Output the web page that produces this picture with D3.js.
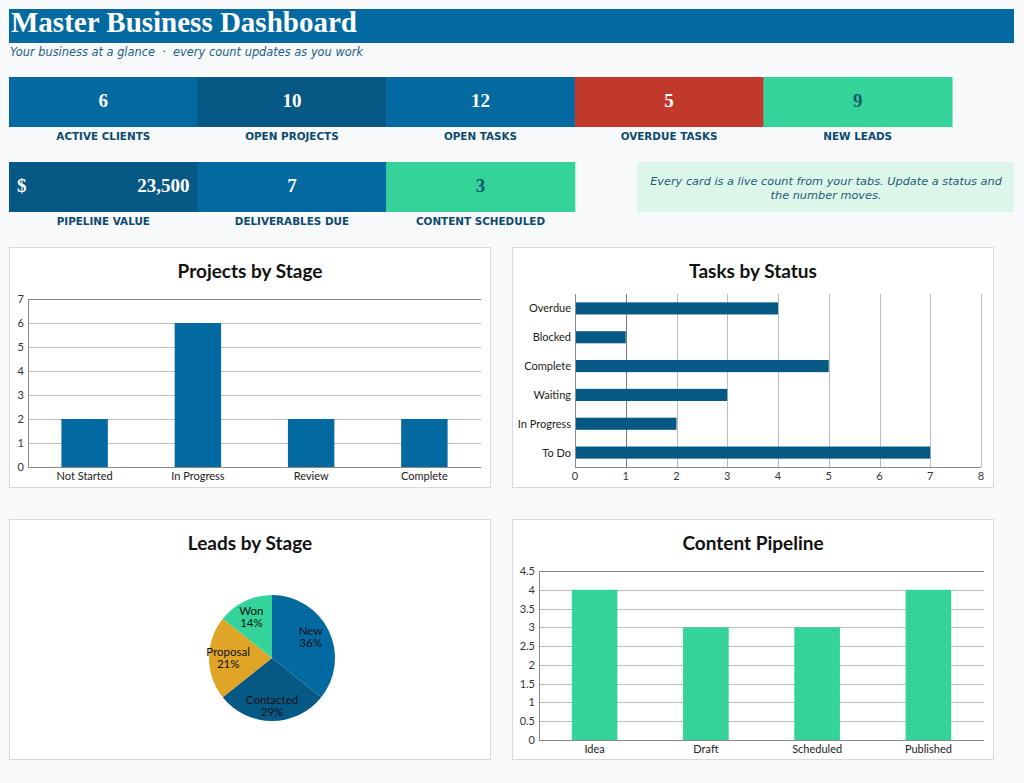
<!DOCTYPE html>
<html><head><meta charset="utf-8">
<script src="https://cdn.jsdelivr.net/npm/d3@7"></script>
<style>
html,body{margin:0;padding:0;background:#f8f9fb;}
svg{display:block;}
text{white-space:pre;}
</style></head>
<body><svg id="c" width="1024" height="783"></svg>
<script>
// ---- data ----
const kpiLabels1 = ["ACTIVE CLIENTS","OPEN PROJECTS","OPEN TASKS","OVERDUE TASKS","NEW LEADS"];
const kpiValues1 = [6,10,12,5,9];
const kpiLabels2 = ["PIPELINE VALUE","DELIVERABLES DUE","CONTENT SCHEDULED"];
const kpiValues2 = [23500,7,3];
const projectStages = ["Not Started","In Progress","Review","Complete"];
const projectCounts = [2,6,2,2];
const taskStatuses = ["Overdue","Blocked","Complete","Waiting","In Progress","To Do"];
const taskCounts = [4,1,5,3,2,7];
const leadStages = ["New","Contacted","Proposal","Won"];
const leadCounts = [5,4,3,2];
const contentStages = ["Idea","Draft","Scheduled","Published"];
const contentCounts = [4,3,3,4];
const projectTicks = [0,1,2,3,4,5,6,7];
const taskTicks = [0,1,2,3,4,5,6,7,8];
const contentTicks = [0,0.5,1,1.5,2,2.5,3,3.5,4,4.5];

// ---- styles ----
const BLUE="#0369a1", DARK="#075985", RED="#c0392b", GREEN="#34d399", GOLD="#e0a526";
const kpiColors1=[BLUE,DARK,BLUE,RED,GREEN];
const kpiColors2=[DARK,BLUE,GREEN];
const svg=d3.select("#c");

// header
svg.append("rect").attr("x",9).attr("y",9).attr("width",1005).attr("height",34).attr("fill","#036aa1");
svg.append("text").attr("x",11).attr("y",32).attr("fill","#fff")
  .attr("font-family","'Liberation Serif',serif").attr("font-weight","bold").attr("font-size",29)
  .text("Master Business Dashboard");
svg.append("text").attr("x",10).attr("y",56).attr("fill","#1d5f86")
  .attr("font-family","'DejaVu Sans',sans-serif").attr("font-style","italic").attr("font-size",11.4)
  .text("Your business at a glance  \u00b7  every count updates as you work");

const cw=188.6;
function card(i,y,color,val,label,pipeline){
  const x=9+i*cw;
  svg.append("rect").attr("x",x).attr("y",y).attr("width",cw+0.5).attr("height",50).attr("fill",color);
  const tc = color===GREEN ? "#0b5a6e" : "#fff";
  if(pipeline){
    svg.append("text").attr("x",x+8).attr("y",y+30).attr("fill",tc)
      .attr("font-family","'Liberation Serif',serif").attr("font-weight","bold").attr("font-size",19).text("$");
    svg.append("text").attr("x",x+cw-8).attr("y",y+30).attr("text-anchor","end").attr("fill",tc)
      .attr("font-family","'Liberation Serif',serif").attr("font-weight","bold").attr("font-size",19).text(d3.format(",")(val));
  } else {
    svg.append("text").attr("x",x+cw/2).attr("y",y+30).attr("text-anchor","middle").attr("fill",tc)
      .attr("font-family","'Liberation Serif',serif").attr("font-weight","bold").attr("font-size",19).text(val);
  }
  svg.append("text").attr("x",x+cw/2).attr("y",y+63).attr("text-anchor","middle").attr("fill","#0c4a6e")
    .attr("font-family","'DejaVu Sans',sans-serif").attr("font-weight","bold").attr("font-size",10.4)
    .text(label);
}
kpiValues1.forEach((v,i)=>card(i,77,kpiColors1[i],v,kpiLabels1[i],false));
kpiValues2.forEach((v,i)=>card(i,162,kpiColors2[i],v,kpiLabels2[i],i===0));

// note
svg.append("rect").attr("x",637).attr("y",162).attr("width",377).attr("height",50).attr("fill","#dcf7ea");
const note=svg.append("text").attr("text-anchor","middle").attr("fill","#1e5a78")
  .attr("font-family","'DejaVu Sans',sans-serif").attr("font-style","italic").attr("font-size",11.3);
note.append("tspan").attr("x",826).attr("y",185).text("Every card is a live count from your tabs. Update a status and");
note.append("tspan").attr("x",826).attr("y",199).text("the number moves.");

// panels
function panel(x,y,title){
  const g=svg.append("g");
  g.append("rect").attr("x",x+0.5).attr("y",y+0.5).attr("width",481).attr("height",240)
   .attr("fill","#fff").attr("stroke","#d9d9d9");
  g.append("text").attr("x",x+241).attr("y",y+31).attr("text-anchor","middle")
   .attr("font-family","Lato,sans-serif").attr("font-weight","bold").attr("font-size",19).attr("fill","#111")
   .text(title);
  return g;
}
const FONT="Lato,sans-serif";

function vbar(g,cats,vals,color,left,right,top,bottom,max,ticks,fmt){
  const x=d3.scaleBand().domain(cats).range([left,right]).paddingInner(0.59).paddingOuter(0.295);
  const y=d3.scaleLinear().domain([0,max]).range([bottom,top]);
  g.append("g").selectAll("line").data(ticks).join("line")
    .attr("x1",left).attr("x2",right).attr("y1",d=>Math.round(y(d))+0.5).attr("y2",d=>Math.round(y(d))+0.5)
    .attr("stroke",(d,i)=>i===ticks.length-1?"#8a8a8a":"#bdbdbd").attr("stroke-width",1);
  g.append("g").selectAll("rect").data(vals).join("rect")
    .attr("x",(d,i)=>x(cats[i])).attr("width",x.bandwidth())
    .attr("y",d=>y(d)).attr("height",d=>bottom-y(d)).attr("fill",color);
  g.append("line").attr("x1",left).attr("x2",right).attr("y1",bottom+0.5).attr("y2",bottom+0.5).attr("stroke","#8a8a8a");
  g.append("line").attr("x1",left+0.5).attr("x2",left+0.5).attr("y1",top).attr("y2",bottom).attr("stroke","#8a8a8a");
  g.append("g").selectAll("text").data(ticks).join("text")
    .attr("x",left-4).attr("y",d=>y(d)+4).attr("text-anchor","end")
    .attr("font-family",FONT).attr("font-size",11).attr("fill","#333").text(fmt);
  g.append("g").selectAll("text").data(cats).join("text")
    .attr("x",d=>x(d)+x.bandwidth()/2).attr("y",bottom+13).attr("text-anchor","middle")
    .attr("font-family",FONT).attr("font-size",11).attr("fill","#222").text(d=>d);
}

// Projects by Stage
const g1=panel(9,247,"Projects by Stage");
vbar(g1,projectStages,projectCounts,BLUE,28,481,299,467,7,projectTicks,d=>d);

// Tasks by Status
const g2=panel(512,247,"Tasks by Status");
{
  const left=575,right=981,top=294,bottom=467;
  const x=d3.scaleLinear().domain([0,8]).range([left,right]);
  const y=d3.scaleBand().domain(taskStatuses).range([top,bottom]).paddingInner(0.58).paddingOuter(0.29);
  g2.append("g").selectAll("line").data(taskTicks).join("line")
    .attr("x1",d=>Math.round(x(d))+0.5).attr("x2",d=>Math.round(x(d))+0.5).attr("y1",top).attr("y2",bottom)
    .attr("stroke",d=>d===1?"#7a7a7a":"#bdbdbd");
  g2.append("g").selectAll("rect").data(taskCounts).join("rect")
    .attr("x",left).attr("y",(d,i)=>y(taskStatuses[i])).attr("height",y.bandwidth())
    .attr("width",d=>x(d)-left).attr("fill",DARK);
  g2.append("line").attr("x1",left).attr("x2",right).attr("y1",bottom+0.5).attr("y2",bottom+0.5).attr("stroke","#8a8a8a");
  g2.append("line").attr("x1",left+0.5).attr("x2",left+0.5).attr("y1",top).attr("y2",bottom).attr("stroke","#8a8a8a");
  g2.append("g").selectAll("text").data(taskTicks).join("text")
    .attr("x",d=>x(d)).attr("y",bottom+13).attr("text-anchor","middle")
    .attr("font-family",FONT).attr("font-size",11).attr("fill","#333").text(d=>d);
  g2.append("g").selectAll("text").data(taskStatuses).join("text")
    .attr("x",left-4).attr("y",d=>y(d)+y.bandwidth()/2+4).attr("text-anchor","end")
    .attr("font-family",FONT).attr("font-size",11).attr("fill","#222").text(d=>d);
}

// Leads by Stage
const g3=panel(9,519,"Leads by Stage");
{
  const cx=272,cy=658,r=63;
  const total=d3.sum(leadCounts);
  const pie=d3.pie().sort(null)(leadCounts);
  const arc=d3.arc().innerRadius(0).outerRadius(r);
  const colors=[BLUE,DARK,GOLD,GREEN];
  const pg=g3.append("g").attr("transform",`translate(${cx},${cy})`);
  pg.selectAll("path").data(pie).join("path").attr("d",arc).attr("fill",(d,i)=>colors[i]);
  const lab=d3.arc().innerRadius(r*0.68).outerRadius(r*0.68);
  const off=[[0,-3],[0,4],[-1,-1],[-2,-3]];
  const t=pg.selectAll("text").data(pie).join("text")
    .attr("text-anchor","middle").attr("font-family",FONT).attr("font-size",11.5).attr("fill","#111")
    .attr("transform",(d,i)=>{const c=lab.centroid(d);return `translate(${c[0]+off[i][0]},${c[1]+off[i][1]})`;});
  t.append("tspan").attr("x",0).attr("y",-1).text((d,i)=>leadStages[i]);
  t.append("tspan").attr("x",0).attr("y",11).text(d=>Math.round(d.data/total*100)+"%");
}

// Content Pipeline
const g4=panel(512,519,"Content Pipeline");
vbar(g4,contentStages,contentCounts,GREEN,539,984,571,740,4.5,contentTicks,d=>d);
</script></body></html>
